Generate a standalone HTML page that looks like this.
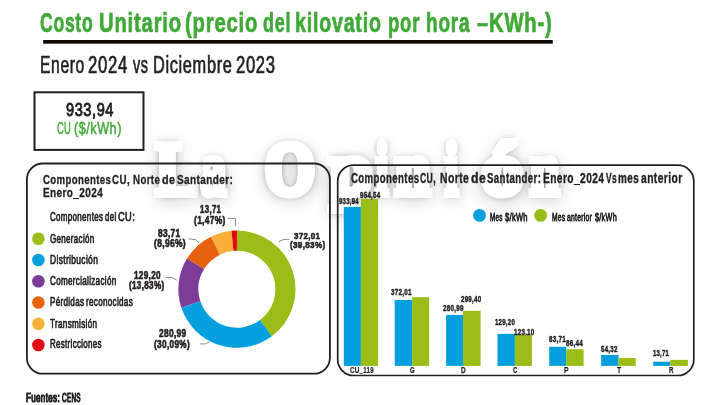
<!DOCTYPE html>
<html><head><meta charset="utf-8">
<style>
html,body{margin:0;padding:0;background:#fff;}
body{width:720px;height:405px;position:relative;overflow:hidden;font-family:"Liberation Sans",sans-serif;}
.t{position:absolute;white-space:nowrap;line-height:1;transform-origin:0 0;}
.wm{position:absolute;font-family:"Liberation Serif",serif;font-weight:700;font-size:74px;color:#fff;-webkit-text-stroke:8px #fff;white-space:nowrap;line-height:1;transform-origin:0 0;text-shadow:0 0 8px rgba(0,0,0,0.7),1px 4px 20px rgba(0,0,0,0.4);}
#wmw{position:absolute;left:0;top:0;width:720px;height:405px;filter:blur(0.7px);}
svg{position:absolute;left:0;top:0;}
</style></head><body>
<div id="wmw"><div class="wm" style="left:155.6px;top:131.8px;transform:scaleX(0.870)">L</div><div class="wm" style="left:201.3px;top:131.8px;transform:scaleX(0.667)">a</div><div class="wm" style="left:264.9px;top:131.8px;transform:scaleX(0.864)">O</div><div class="wm" style="left:330.1px;top:131.8px;transform:scaleX(1.021)">p</div><div class="wm" style="left:375.8px;top:131.8px;transform:scaleX(0.593)">i</div><div class="wm" style="left:394.6px;top:131.8px;transform:scaleX(0.854)">n</div><div class="wm" style="left:444.9px;top:131.8px;transform:scaleX(0.630)">i</div><div class="wm" style="left:482.2px;top:131.8px;transform:scaleX(1.098)">ó</div><div class="wm" style="left:530.1px;top:131.8px;transform:scaleX(0.708)">n</div></div>
<svg width="720" height="405" viewBox="0 0 720 405">
<rect x="26.9" y="163.5" width="303" height="210.2" rx="16" ry="16" fill="none" stroke="#231f20" stroke-width="1.8"/>
<rect x="337.7" y="165.1" width="356.1" height="210.4" rx="16" ry="16" fill="none" stroke="#231f20" stroke-width="1.7"/>
<rect x="34.5" y="92.3" width="109" height="57.6" fill="none" stroke="#231f20" stroke-width="2"/>
<rect x="43.1" y="40" width="509.7" height="3.7" fill="#140a09"/>
<path d="M236.95 230.60A58.60 58.60 0 0 1 271.89 336.24L259.91 320.11A38.50 38.50 0 0 0 236.95 250.70Z" fill="#9abd17"/>
<path d="M271.89 336.24A58.60 58.60 0 0 1 181.31 307.59L200.40 301.28A38.50 38.50 0 0 0 259.91 320.11Z" fill="#03a0dd"/>
<path d="M181.31 307.59A58.60 58.60 0 0 1 186.99 258.57L204.13 269.08A38.50 38.50 0 0 0 200.40 301.28Z" fill="#7d3c97"/>
<path d="M186.99 258.57A58.60 58.60 0 0 1 211.06 236.63L219.94 254.66A38.50 38.50 0 0 0 204.13 269.08Z" fill="#e6620f"/>
<path d="M211.06 236.63A58.60 58.60 0 0 1 231.55 230.85L233.40 250.86A38.50 38.50 0 0 0 219.94 254.66Z" fill="#f7b13a"/>
<path d="M231.55 230.85A58.60 58.60 0 0 1 236.95 230.60L236.95 250.70A38.50 38.50 0 0 0 233.40 250.86Z" fill="#e30613"/>
<circle cx="38.4" cy="238.70" r="6.3" fill="#9abd17"/>
<circle cx="38.4" cy="259.96" r="6.3" fill="#03a0dd"/>
<circle cx="38.4" cy="281.22" r="6.3" fill="#7d3c97"/>
<circle cx="38.4" cy="302.48" r="6.3" fill="#e6620f"/>
<circle cx="38.4" cy="323.74" r="6.3" fill="#f7b13a"/>
<circle cx="38.4" cy="345.00" r="6.3" fill="#e30613"/>
<polyline points="227.6,218.3 235.6,218.3 235.6,225.9" fill="none" stroke="#6d6e71" stroke-width="0.8"/>
<polyline points="188.5,238.9 195.6,239.6 198.9,242.6" fill="none" stroke="#6d6e71" stroke-width="0.8"/>
<polyline points="165.9,277.6 172.3,277.6 176.8,280.2" fill="none" stroke="#6d6e71" stroke-width="0.8"/>
<polyline points="200.0,343.9 205.6,343.9 209.4,341.7" fill="none" stroke="#6d6e71" stroke-width="0.8"/>
<polyline points="278.9,241.7 283.9,239.4 289.4,239.4" fill="none" stroke="#6d6e71" stroke-width="0.8"/>
<rect x="343.8" y="206.9" width="17.1" height="159.0" fill="#03a0dd"/>
<rect x="360.9" y="198.8" width="17.2" height="167.1" fill="#9abd17"/>
<rect x="394.7" y="300.0" width="17.4" height="65.9" fill="#03a0dd"/>
<rect x="412.1" y="297.2" width="17.1" height="68.7" fill="#9abd17"/>
<rect x="446.1" y="314.9" width="16.9" height="51.0" fill="#03a0dd"/>
<rect x="463.0" y="310.8" width="17.6" height="55.1" fill="#9abd17"/>
<rect x="497.5" y="333.9" width="17.4" height="32.0" fill="#03a0dd"/>
<rect x="514.9" y="335.0" width="17.0" height="30.9" fill="#9abd17"/>
<rect x="549.2" y="346.8" width="17.1" height="19.1" fill="#03a0dd"/>
<rect x="566.3" y="349.2" width="17.3" height="16.7" fill="#9abd17"/>
<rect x="601.1" y="355.0" width="17.4" height="10.9" fill="#03a0dd"/>
<rect x="618.5" y="358.0" width="17.3" height="7.9" fill="#9abd17"/>
<rect x="653.2" y="361.7" width="17.1" height="4.2" fill="#03a0dd"/>
<rect x="670.3" y="359.9" width="17.6" height="6.0" fill="#9abd17"/>
<circle cx="479.5" cy="215.4" r="6.4" fill="#03a0dd"/>
<circle cx="540.6" cy="215.4" r="6.4" fill="#9abd17"/>
</svg>
<div class="t" style="left:39.52px;top:7.82px;font-size:28.2px;font-weight:700;color:#3ea935;transform:scaleX(0.6245);-webkit-text-stroke:0.7px #3ea935;letter-spacing:1.13px">Costo</div>
<div class="t" style="left:98.79px;top:7.82px;font-size:28.2px;font-weight:700;color:#3ea935;transform:scaleX(0.7182);-webkit-text-stroke:0.7px #3ea935;letter-spacing:1.13px">Unitario</div>
<div class="t" style="left:185.44px;top:7.82px;font-size:28.2px;font-weight:700;color:#3ea935;transform:scaleX(0.7187);-webkit-text-stroke:0.7px #3ea935;letter-spacing:1.13px">(precio</div>
<div class="t" style="left:263.01px;top:7.82px;font-size:28.2px;font-weight:700;color:#3ea935;transform:scaleX(0.6370);-webkit-text-stroke:0.7px #3ea935;letter-spacing:1.13px">del</div>
<div class="t" style="left:295.07px;top:7.82px;font-size:28.2px;font-weight:700;color:#3ea935;transform:scaleX(0.6960);-webkit-text-stroke:0.7px #3ea935;letter-spacing:1.13px">kilovatio</div>
<div class="t" style="left:387.87px;top:7.82px;font-size:28.2px;font-weight:700;color:#3ea935;transform:scaleX(0.6601);-webkit-text-stroke:0.7px #3ea935;letter-spacing:1.13px">por</div>
<div class="t" style="left:426px;top:7.82px;font-size:28.2px;font-weight:700;color:#3ea935;transform:scaleX(0.6746);-webkit-text-stroke:0.7px #3ea935;letter-spacing:1.13px">hora</div>
<div class="t" style="left:477.15px;top:7.82px;font-size:28.2px;font-weight:700;color:#3ea935;transform:scaleX(0.7164);-webkit-text-stroke:0.7px #3ea935;letter-spacing:1.13px">–KWh-)</div>
<div class="t" style="left:39.98px;top:52.5px;font-size:24.56px;font-weight:400;color:#231f20;transform:scaleX(0.6383);-webkit-text-stroke:0.74px #231f20;letter-spacing:0.98px">Enero</div>
<div class="t" style="left:88.41px;top:52.5px;font-size:24.56px;font-weight:400;color:#231f20;transform:scaleX(0.6819);-webkit-text-stroke:0.74px #231f20;letter-spacing:0.98px">2024</div>
<div class="t" style="left:133.32px;top:52.5px;font-size:24.56px;font-weight:400;color:#231f20;transform:scaleX(0.5872);-webkit-text-stroke:0.74px #231f20;letter-spacing:0.98px">vs</div>
<div class="t" style="left:152.69px;top:52.5px;font-size:24.56px;font-weight:400;color:#231f20;transform:scaleX(0.6663);-webkit-text-stroke:0.74px #231f20;letter-spacing:0.98px">Diciembre</div>
<div class="t" style="left:236.32px;top:52.5px;font-size:24.56px;font-weight:400;color:#231f20;transform:scaleX(0.6778);-webkit-text-stroke:0.74px #231f20;letter-spacing:0.98px">2023</div>
<div class="t" style="left:65.58px;top:100.8px;font-size:18.9px;font-weight:400;color:#231f20;transform:scaleX(0.7704);-webkit-text-stroke:0.94px #231f20;letter-spacing:0.76px">933,94</div>
<div class="t" style="left:56.87px;top:120.28px;font-size:17.15px;font-weight:400;color:#3ea935;transform:scaleX(0.5444);-webkit-text-stroke:0.51px #3ea935;letter-spacing:0.69px">CU</div>
<div class="t" style="left:73.83px;top:120.28px;font-size:17.15px;font-weight:400;color:#3ea935;transform:scaleX(0.7390);-webkit-text-stroke:0.51px #3ea935;letter-spacing:0.69px">($/kWh)</div>
<div class="t" style="left:42.84px;top:172.92px;font-size:13.08px;font-weight:700;color:#231f20;transform:scaleX(0.7355);-webkit-text-stroke:0.33px #231f20;letter-spacing:0.52px">Componentes</div>
<div class="t" style="left:112.23px;top:172.92px;font-size:13.08px;font-weight:700;color:#231f20;transform:scaleX(0.7470);-webkit-text-stroke:0.33px #231f20;letter-spacing:0.52px">CU,</div>
<div class="t" style="left:132.64px;top:172.92px;font-size:13.08px;font-weight:700;color:#231f20;transform:scaleX(0.7418);-webkit-text-stroke:0.33px #231f20;letter-spacing:0.52px">Norte</div>
<div class="t" style="left:162.21px;top:172.92px;font-size:13.08px;font-weight:700;color:#231f20;transform:scaleX(0.8196);-webkit-text-stroke:0.33px #231f20;letter-spacing:0.52px">de</div>
<div class="t" style="left:176.82px;top:172.92px;font-size:13.08px;font-weight:700;color:#231f20;transform:scaleX(0.7651);-webkit-text-stroke:0.33px #231f20;letter-spacing:0.52px">Santander:</div>
<div class="t" style="left:42.63px;top:186.15px;font-size:13.52px;font-weight:700;color:#231f20;transform:scaleX(0.7393);-webkit-text-stroke:0.34px #231f20;letter-spacing:0.54px">Enero_2024</div>
<div class="t" style="left:50.14px;top:211.71px;font-size:11.92px;font-weight:400;color:#231f20;transform:scaleX(0.6706);-webkit-text-stroke:0.72px #231f20;letter-spacing:0.48px">Componentes</div>
<div class="t" style="left:104.92px;top:211.71px;font-size:11.92px;font-weight:400;color:#231f20;transform:scaleX(0.6603);-webkit-text-stroke:0.72px #231f20;letter-spacing:0.48px">del</div>
<div class="t" style="left:117.71px;top:211.71px;font-size:11.92px;font-weight:400;color:#231f20;transform:scaleX(0.7785);-webkit-text-stroke:0.72px #231f20;letter-spacing:0.48px">CU:</div>
<div class="t" style="left:49.94px;top:233.29px;font-size:12.06px;font-weight:400;color:#231f20;transform:scaleX(0.6636);-webkit-text-stroke:0.72px #231f20;letter-spacing:0.48px">Generación</div>
<div class="t" style="left:49.68px;top:254.39px;font-size:12.06px;font-weight:400;color:#231f20;transform:scaleX(0.7016);-webkit-text-stroke:0.72px #231f20;letter-spacing:0.48px">Distribución</div>
<div class="t" style="left:49.94px;top:275.29px;font-size:12.06px;font-weight:400;color:#231f20;transform:scaleX(0.6688);-webkit-text-stroke:0.72px #231f20;letter-spacing:0.48px">Comercialización</div>
<div class="t" style="left:50.18px;top:317.59px;font-size:12.06px;font-weight:400;color:#231f20;transform:scaleX(0.6726);-webkit-text-stroke:0.72px #231f20;letter-spacing:0.48px">Transmisión</div>
<div class="t" style="left:49.7px;top:338.19px;font-size:12.06px;font-weight:400;color:#231f20;transform:scaleX(0.6598);-webkit-text-stroke:0.72px #231f20;letter-spacing:0.48px">Restricciones</div>
<div class="t" style="left:49.9px;top:296.29px;font-size:12.06px;font-weight:400;color:#231f20;transform:scaleX(0.6668);-webkit-text-stroke:0.72px #231f20;letter-spacing:0.48px">Pérdidas</div>
<div class="t" style="left:85.76px;top:296.29px;font-size:12.06px;font-weight:400;color:#231f20;transform:scaleX(0.6689);-webkit-text-stroke:0.72px #231f20;letter-spacing:0.48px">reconocidas</div>
<div class="t" style="left:199.56px;top:205.16px;font-size:10.32px;font-weight:700;color:#231f20;transform:scaleX(0.7645);-webkit-text-stroke:0.62px #231f20;letter-spacing:0.41px">13,71</div>
<div class="t" style="left:194.32px;top:215.76px;font-size:10.32px;font-weight:700;color:#231f20;transform:scaleX(0.8130);-webkit-text-stroke:0.62px #231f20;letter-spacing:0.41px">(1,47%)</div>
<div class="t" style="left:158.1px;top:227.72px;font-size:10.61px;font-weight:700;color:#231f20;transform:scaleX(0.7882);-webkit-text-stroke:0.64px #231f20;letter-spacing:0.42px">83,71</div>
<div class="t" style="left:153.82px;top:238.32px;font-size:10.61px;font-weight:700;color:#231f20;transform:scaleX(0.7984);-webkit-text-stroke:0.64px #231f20;letter-spacing:0.42px">(8,96%)</div>
<div class="t" style="left:133.56px;top:271.04px;font-size:10.47px;font-weight:700;color:#231f20;transform:scaleX(0.7769);-webkit-text-stroke:0.63px #231f20;letter-spacing:0.42px">129,20</div>
<div class="t" style="left:128.82px;top:281.04px;font-size:10.47px;font-weight:700;color:#231f20;transform:scaleX(0.7751);-webkit-text-stroke:0.63px #231f20;letter-spacing:0.42px">(13,83%)</div>
<div class="t" style="left:158.7px;top:328.07px;font-size:10.9px;font-weight:700;color:#231f20;transform:scaleX(0.7643);-webkit-text-stroke:0.65px #231f20;letter-spacing:0.44px">280,99</div>
<div class="t" style="left:154.32px;top:339.27px;font-size:10.9px;font-weight:700;color:#231f20;transform:scaleX(0.7569);-webkit-text-stroke:0.65px #231f20;letter-spacing:0.44px">(30,09%)</div>
<div class="t" style="left:293.98px;top:230.53px;font-size:9.88px;font-weight:700;color:#231f20;transform:scaleX(0.8069);-webkit-text-stroke:0.59px #231f20;letter-spacing:0.4px">372,01</div>
<div class="t" style="left:289.72px;top:240.33px;font-size:9.88px;font-weight:700;color:#231f20;transform:scaleX(0.8207);-webkit-text-stroke:0.59px #231f20;letter-spacing:0.4px">(39,83%)</div>
<div class="t" style="left:350.99px;top:169.95px;font-size:15.41px;font-weight:700;color:#231f20;transform:scaleX(0.6245);-webkit-text-stroke:0.39px #231f20;letter-spacing:0.62px">Componentes</div>
<div class="t" style="left:420.36px;top:169.95px;font-size:15.41px;font-weight:700;color:#231f20;transform:scaleX(0.5630);-webkit-text-stroke:0.39px #231f20;letter-spacing:0.62px">CU,</div>
<div class="t" style="left:440.11px;top:169.95px;font-size:15.41px;font-weight:700;color:#231f20;transform:scaleX(0.6741);-webkit-text-stroke:0.39px #231f20;letter-spacing:0.62px">Norte</div>
<div class="t" style="left:470.91px;top:169.95px;font-size:15.41px;font-weight:700;color:#231f20;transform:scaleX(0.7989);-webkit-text-stroke:0.39px #231f20;letter-spacing:0.62px">de</div>
<div class="t" style="left:487.43px;top:169.95px;font-size:15.41px;font-weight:700;color:#231f20;transform:scaleX(0.6272);-webkit-text-stroke:0.39px #231f20;letter-spacing:0.62px">Santander:</div>
<div class="t" style="left:542.62px;top:169.95px;font-size:15.41px;font-weight:700;color:#231f20;transform:scaleX(0.6623);-webkit-text-stroke:0.39px #231f20;letter-spacing:0.62px">Enero_2024</div>
<div class="t" style="left:605.71px;top:169.95px;font-size:15.41px;font-weight:700;color:#231f20;transform:scaleX(0.5521);-webkit-text-stroke:0.39px #231f20;letter-spacing:0.62px">Vs</div>
<div class="t" style="left:618.28px;top:169.95px;font-size:15.41px;font-weight:700;color:#231f20;transform:scaleX(0.6457);-webkit-text-stroke:0.39px #231f20;letter-spacing:0.62px">mes</div>
<div class="t" style="left:641.17px;top:169.95px;font-size:15.41px;font-weight:700;color:#231f20;transform:scaleX(0.6695);-webkit-text-stroke:0.39px #231f20;letter-spacing:0.62px">anterior</div>
<div class="t" style="left:489.72px;top:212.07px;font-size:10.9px;font-weight:400;color:#231f20;transform:scaleX(0.5801);-webkit-text-stroke:0.76px #231f20;letter-spacing:0.44px">Mes</div>
<div class="t" style="left:504.59px;top:212.07px;font-size:10.9px;font-weight:400;color:#231f20;transform:scaleX(0.6915);-webkit-text-stroke:0.76px #231f20;letter-spacing:0.44px">$/kWh</div>
<div class="t" style="left:551.9px;top:212.07px;font-size:10.9px;font-weight:400;color:#231f20;transform:scaleX(0.6086);-webkit-text-stroke:0.76px #231f20;letter-spacing:0.44px">Mes</div>
<div class="t" style="left:566.67px;top:212.07px;font-size:10.9px;font-weight:400;color:#231f20;transform:scaleX(0.6219);-webkit-text-stroke:0.76px #231f20;letter-spacing:0.44px">anterior</div>
<div class="t" style="left:594.58px;top:212.07px;font-size:10.9px;font-weight:400;color:#231f20;transform:scaleX(0.6640);-webkit-text-stroke:0.76px #231f20;letter-spacing:0.44px">$/kWh</div>
<div class="t" style="left:338.97px;top:197.27px;font-size:9.01px;font-weight:700;color:#231f20;transform:scaleX(0.6660);-webkit-text-stroke:0.45px #231f20;letter-spacing:0.36px">933,94</div>
<div class="t" style="left:360.17px;top:190.72px;font-size:8.72px;font-weight:700;color:#231f20;transform:scaleX(0.7126);-webkit-text-stroke:0.44px #231f20;letter-spacing:0.35px">954,54</div>
<div class="t" style="left:390.83px;top:287.89px;font-size:8.87px;font-weight:700;color:#231f20;transform:scaleX(0.7122);-webkit-text-stroke:0.44px #231f20;letter-spacing:0.35px">372,01</div>
<div class="t" style="left:442.57px;top:304.07px;font-size:9.01px;font-weight:700;color:#231f20;transform:scaleX(0.6981);-webkit-text-stroke:0.45px #231f20;letter-spacing:0.36px">280,99</div>
<div class="t" style="left:461.07px;top:294.52px;font-size:8.72px;font-weight:700;color:#231f20;transform:scaleX(0.7073);-webkit-text-stroke:0.44px #231f20;letter-spacing:0.35px">299,40</div>
<div class="t" style="left:495.19px;top:317.62px;font-size:8.72px;font-weight:700;color:#231f20;transform:scaleX(0.6960);-webkit-text-stroke:0.44px #231f20;letter-spacing:0.35px">129,20</div>
<div class="t" style="left:513.68px;top:327.62px;font-size:8.72px;font-weight:700;color:#231f20;transform:scaleX(0.7139);-webkit-text-stroke:0.44px #231f20;letter-spacing:0.35px">123.10</div>
<div class="t" style="left:549.17px;top:334.92px;font-size:8.72px;font-weight:700;color:#231f20;transform:scaleX(0.7166);-webkit-text-stroke:0.44px #231f20;letter-spacing:0.35px">83,71</div>
<div class="t" style="left:565.97px;top:339.32px;font-size:8.72px;font-weight:700;color:#231f20;transform:scaleX(0.7214);-webkit-text-stroke:0.44px #231f20;letter-spacing:0.35px">86,44</div>
<div class="t" style="left:600.77px;top:344.67px;font-size:9.01px;font-weight:700;color:#231f20;transform:scaleX(0.6835);-webkit-text-stroke:0.45px #231f20;letter-spacing:0.36px">54,32</div>
<div class="t" style="left:653.39px;top:349.47px;font-size:9.01px;font-weight:700;color:#231f20;transform:scaleX(0.6591);-webkit-text-stroke:0.45px #231f20;letter-spacing:0.36px">13,71</div>
<div class="t" style="left:349.63px;top:366.17px;font-size:9.01px;font-weight:700;color:#231f20;transform:scaleX(0.6931);-webkit-text-stroke:0.23px #231f20;letter-spacing:0.36px">CU_119</div>
<div class="t" style="left:409.74px;top:365.43px;font-size:9.88px;font-weight:700;color:#231f20;transform:scaleX(0.6027);-webkit-text-stroke:0.25px #231f20;letter-spacing:0.4px">G</div>
<div class="t" style="left:460.6px;top:365.43px;font-size:9.88px;font-weight:700;color:#231f20;transform:scaleX(0.6488);-webkit-text-stroke:0.25px #231f20;letter-spacing:0.4px">D</div>
<div class="t" style="left:512.73px;top:365.43px;font-size:9.88px;font-weight:700;color:#231f20;transform:scaleX(0.6203);-webkit-text-stroke:0.25px #231f20;letter-spacing:0.4px">C</div>
<div class="t" style="left:563.57px;top:365.43px;font-size:9.88px;font-weight:700;color:#231f20;transform:scaleX(0.7024);-webkit-text-stroke:0.25px #231f20;letter-spacing:0.4px">P</div>
<div class="t" style="left:616.92px;top:365.43px;font-size:9.88px;font-weight:700;color:#231f20;transform:scaleX(0.6799);-webkit-text-stroke:0.25px #231f20;letter-spacing:0.4px">T</div>
<div class="t" style="left:668.6px;top:365.43px;font-size:9.88px;font-weight:700;color:#231f20;transform:scaleX(0.6295);-webkit-text-stroke:0.25px #231f20;letter-spacing:0.4px">R</div>
<div class="t" style="left:25.56px;top:392.06px;font-size:12.21px;font-weight:400;color:#231f20;transform:scaleX(0.6607);-webkit-text-stroke:1.22px #231f20;letter-spacing:0.49px">Fuentes:</div>
<div class="t" style="left:62.2px;top:392.06px;font-size:12.21px;font-weight:400;color:#231f20;transform:scaleX(0.5261);-webkit-text-stroke:1.22px #231f20;letter-spacing:0.49px">CENS</div>
</body></html>
